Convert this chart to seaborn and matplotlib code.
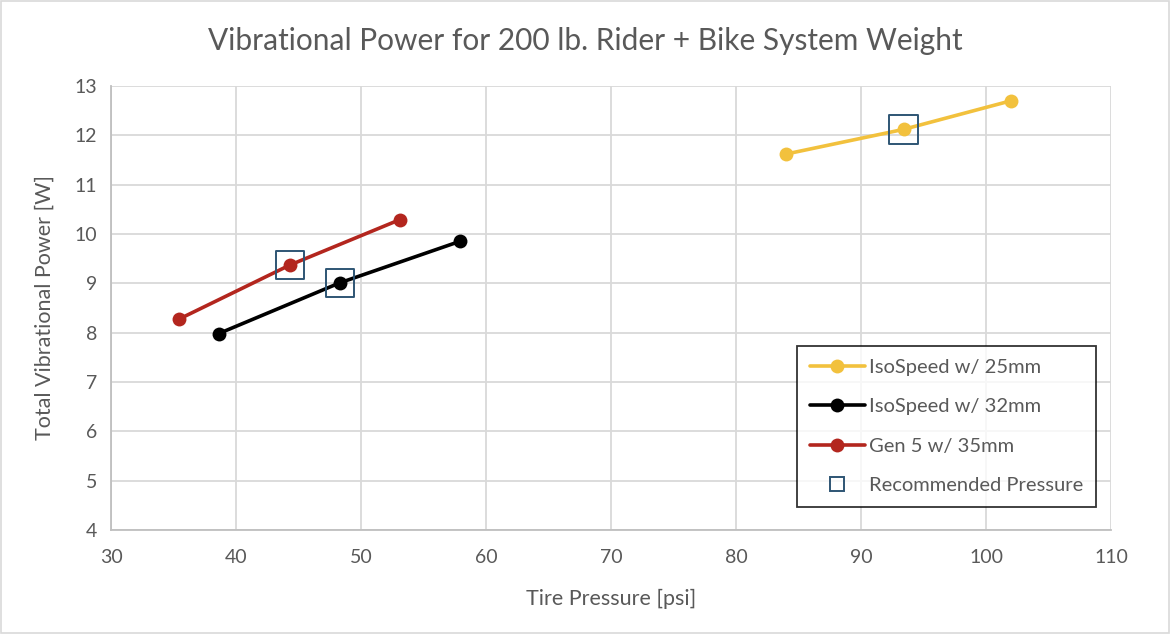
import matplotlib
matplotlib.use("Agg")
import matplotlib.pyplot as plt
import seaborn as sns
import pandas as pd
from matplotlib.lines import Line2D
from matplotlib.patches import Rectangle

# values
iso25_psi = [84.0, 93.4, 102.0]
iso25_w = [11.62, 12.12, 12.70]
iso32_psi = [38.6, 48.3, 57.9]
iso32_w = [7.98, 9.01, 9.85]
gen5_psi = [35.4, 44.3, 53.1]
gen5_w = [8.27, 9.37, 10.29]
rec_psi = [93.4, 48.3, 44.3]
rec_w = [12.12, 9.01, 9.37]

series_names = ["IsoSpeed w/ 25mm", "IsoSpeed w/ 32mm", "Gen 5 w/ 35mm"]
colors = ["#F2C13D", "#000000", "#B3261E"]

df = pd.concat([
    pd.DataFrame({"psi": iso25_psi, "watts": iso25_w, "series": series_names[0]}),
    pd.DataFrame({"psi": iso32_psi, "watts": iso32_w, "series": series_names[1]}),
    pd.DataFrame({"psi": gen5_psi, "watts": gen5_w, "series": series_names[2]}),
])
rec = pd.DataFrame({"psi": rec_psi, "watts": rec_w})

sns.set_theme(style="whitegrid")
plt.rcParams["font.family"] = ["Lato", "DejaVu Sans"]
txt = "#595959"

fig = plt.figure(figsize=(11.7, 6.34), dpi=100)
ax = fig.add_axes([0.0949, 0.164, 0.8547, 0.7004])

sns.lineplot(data=df, x="psi", y="watts", hue="series", palette=colors,
             marker="o", markersize=10, markeredgewidth=0, linewidth=2.6,
             sort=False, legend=False, ax=ax)
sns.scatterplot(data=rec, x="psi", y="watts", marker="s", s=420,
                facecolor="none", edgecolor="#2E5574", linewidth=1.4, ax=ax, zorder=5)

ax.set_xlim(30, 110)
ax.set_ylim(4, 13)
ax.set_xticks(range(30, 111, 10))
ax.set_yticks(range(4, 14))
ax.grid(True, color="#D9D9D9", linewidth=1.3)
for s in ["top", "right"]:
    ax.spines[s].set_visible(False)
for s in ["left", "bottom"]:
    ax.spines[s].set_color("#BFBFBF")
    ax.spines[s].set_linewidth(1.3)
ax.tick_params(axis="both", colors=txt, labelsize=14, length=0)
ax.tick_params(axis="x", pad=14)
ax.tick_params(axis="y", pad=10)

ax.set_xlabel("Tire Pressure [psi]", color=txt, fontsize=15.5, labelpad=16)
ax.set_ylabel("Total Vibrational Power [W]", color=txt, fontsize=15.5, labelpad=14)
fig.suptitle("Vibrational Power for 200 lb. Rider + Bike System Weight",
             color=txt, fontsize=21.5, y=0.958)

handles = [Line2D([], [], color=c, marker="o", markersize=10, markeredgewidth=0,
                  linewidth=2.6) for c in colors]
handles.append(Line2D([], [], color="none", marker="s", markersize=10,
                      markerfacecolor="none", markeredgecolor="#2E5574",
                      markeredgewidth=1.4))
leg = ax.legend(handles, series_names + ["Recommended Pressure"],
                loc="lower right", bbox_to_anchor=(0.985, 0.052),
                fontsize=14.5, labelcolor=txt, frameon=True, fancybox=False,
                handlelength=2.7, handletextpad=0.2, labelspacing=1.1,
                borderpad=0.65, borderaxespad=0)
leg.get_frame().set_edgecolor("black")
leg.get_frame().set_linewidth(1.3)

fig.patches.append(Rectangle((0.001, 0.001), 0.998, 0.998, transform=fig.transFigure,
                             fill=False, edgecolor="#D9D9D9", linewidth=1.2))

fig.savefig("out.png", dpi=100)
